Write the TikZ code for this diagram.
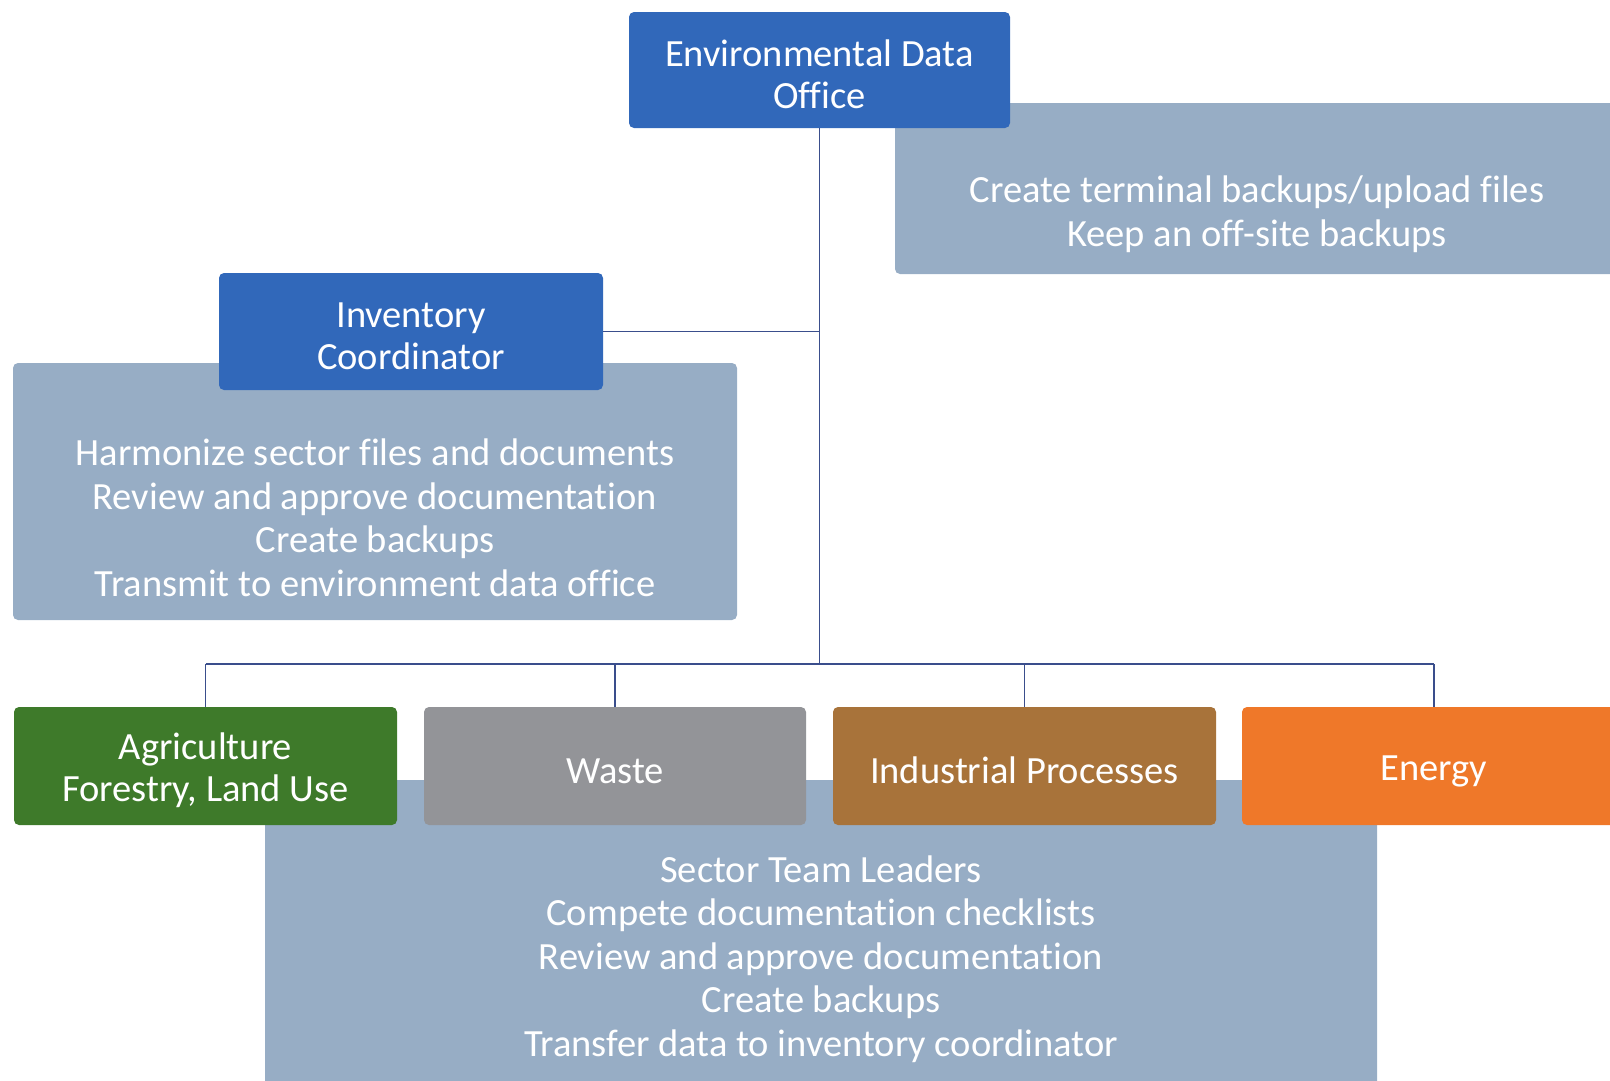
\documentclass[tikz,border=0pt]{standalone}
\usepackage{fontspec}
\setmainfont[Ligatures=NoCommon]{Carlito}
\definecolor{boxblue}{RGB}{49,104,186}
\definecolor{panel}{RGB}{151,173,197}
\definecolor{agri}{RGB}{62,122,42}
\definecolor{waste}{RGB}{147,148,152}
\definecolor{indus}{RGB}{168,115,58}
\definecolor{energy}{RGB}{239,120,41}
\definecolor{linecol}{RGB}{58,78,140}
\newcommand\boxstrut{\rule{0pt}{35pt}}
\begin{document}
\begin{tikzpicture}[x=1pt,y=-1pt,
  box/.style={rounded corners=5pt, inner sep=0pt, text=white, align=center,
    font=\fontsize{38.5}{42}\selectfont},
  panelbox/.style={fill=panel, rounded corners=5pt, inner sep=0pt},
  paneltext/.style={text=white, align=center, inner sep=0pt,
    font=\fontsize{38.5}{43.5}\selectfont},
  conn/.style={draw=linecol, line width=1.8pt}]
\useasboundingbox (0,0) rectangle (1610,1080);
% background panels
\node[panelbox, minimum width=735pt, minimum height=171pt] (trpanel) at (1262.5,188.5) {};
\node[panelbox, minimum width=724pt, minimum height=257pt] (invpanel) at (375,491.5) {};
\node[panelbox, minimum width=1112pt, minimum height=320pt] (secpanel) at (821,940) {};
% panel texts
\node[paneltext] (trtext) at (1257,214) {Create terminal backups/upload files\\Keep an off-site backups};
\node[paneltext] (invtext) at (375,518) {Harmonize sector files and documents\\Review and approve documentation\\Create backups\\Transmit to environment data office};
\node[paneltext] (sectext) at (821,959) {Sector Team Leaders\\Compete documentation checklists\\Review and approve documentation\\Create backups\\Transfer data to inventory coordinator};
% main boxes
\node[box, fill=boxblue, minimum width=381pt, minimum height=116pt] (edo) at (819.5,70) {\boxstrut Environmental Data\\Office};
\node[box, fill=boxblue, minimum width=384pt, minimum height=117pt] (inv) at (411,331.5) {\boxstrut Inventory\\Coordinator};
\node[box, fill=agri, minimum width=383pt, minimum height=118pt] (agri) at (205.5,766) {\boxstrut Agriculture\\Forestry, Land Use};
\node[box, fill=waste, minimum width=382pt, minimum height=118pt] (waste) at (615,766) {\boxstrut Waste};
\node[box, fill=indus, minimum width=383pt, minimum height=118pt] (indus) at (1024.5,766) {\boxstrut Industrial Processes};
\node[box, fill=energy, minimum width=384pt, minimum height=118pt] (energy) at (1434,766) {\boxstrut Energy};
% connectors
\coordinate (busL) at (205.5,664);
\coordinate (busR) at (1434,664);
\draw[conn] (edo.south) -- (edo.south |- busL);
\draw[conn] (inv.east) -- (inv.east -| edo.south);
\draw[conn] (busL) -- (busR);
\draw[conn] (agri.north) -- (agri.north |- busL);
\draw[conn] (waste.north) -- (waste.north |- busL);
\draw[conn] (indus.north) -- (indus.north |- busL);
\draw[conn] (energy.north) -- (energy.north |- busL);
\end{tikzpicture}
\end{document}
